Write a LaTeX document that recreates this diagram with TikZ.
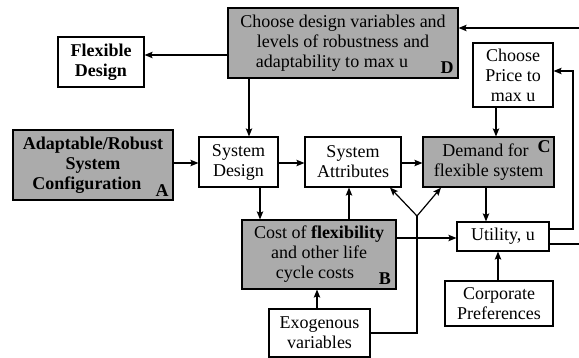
\documentclass[tikz,border=0pt]{standalone}
\usepackage{fontspec}
\setmainfont{Liberation Serif}
\usetikzlibrary{arrows.meta,calc}
\begin{document}
\begin{tikzpicture}[x=1pt,y=-1pt,
  every node/.style={font=\fontsize{18}{20}\selectfont},
  plainbox/.style={draw, line width=1.2pt, fill=white, align=center, inner sep=0pt, rectangle},
  shadebox/.style={plainbox, fill=black!33},
  arr/.style={line width=1.2pt, -{Stealth[length=8pt,width=6.5pt,inset=1.5pt]}},
  ln/.style={line width=1.2pt},
  tag/.style={font=\fontsize{18}{20}\selectfont\bfseries, inner sep=0pt}
]
\useasboundingbox (0,0) rectangle (579,358);
% nodes
\node[plainbox, minimum width=86pt, minimum height=50pt] (FD) at (101,62) {\bfseries Flexible\\\bfseries Design};
\node[shadebox, minimum width=230pt, minimum height=70pt] (D) at (343,43) {Choose design variables and\\levels of robustness and\\adaptability to max u\hspace*{22pt}};
\node[plainbox, minimum width=80pt, minimum height=64pt] (CPr) at (513,75) {Choose\\Price to\\max u};
\node[shadebox, minimum width=160pt, minimum height=70pt] (A) at (93,165) {\bfseries Adaptable/Robust\\\bfseries System\\\bfseries Configuration\hspace*{12pt}};
\node[plainbox, minimum width=79pt, minimum height=50pt] (SD) at (238.5,162) {System\\Design};
\node[plainbox, minimum width=96pt, minimum height=50pt] (SA) at (353,162) {System\\Attributes};
\node[shadebox, minimum width=131pt, minimum height=50pt] (C) at (488.5,162) {Demand for\hspace*{6pt}\\flexible system};
\node[shadebox, minimum width=154pt, minimum height=69pt] (B) at (319,254.5) {Cost of \textbf{flexibility}\\and other life\\cycle costs\hspace*{8pt}};
\node[plainbox, minimum width=92pt, minimum height=29pt] (U) at (503,236.5) {Utility, u};
\node[plainbox, minimum width=101pt, minimum height=48pt] (Exo) at (319.5,333) {Exogenous\\variables};
\node[plainbox, minimum width=108pt, minimum height=45pt] (Corp) at (499,303.5) {Corporate\\Preferences};
% tags
\node[tag] (tD) at (447,68) {D};
\node[tag] (tA) at (162,191) {A};
\node[tag] (tC) at (544,147) {C};
\node[tag] (tB) at (385,279) {B};
% free ends
\coordinate (eR1) at (579,28);
\coordinate (eR2) at (579,244);
\coordinate (bendP) at (573,229);
\coordinate (fork) at (417,216);
% connectors
\draw[arr] (D.west |- 0,55) -- (FD.east |- 0,55);
\draw[arr] (eR1) -- (D.east |- eR1);
\draw[ln] (U.east |- eR2) -- (eR2);
\draw[arr] (U.east |- bendP) -- (bendP) -- (bendP |- 0,71) -- (CPr.east |- 0,71);
\draw[arr] (CPr.south -| 496,0) -- (C.north -| 496,0);
\draw[arr] (D.south -| 249,0) -- (SD.north -| 249,0);
\draw[arr] (A.east |- 0,163) -- (SD.west |- 0,163);
\draw[arr] (SD.east |- 0,163) -- (SA.west |- 0,163);
\draw[arr] (SA.east |- 0,163) -- (C.west |- 0,163);
\draw[arr] (SD.south -| 260,0) -- (B.north -| 260,0);
\draw[arr] (B.north -| 349,0) -- (SA.south -| 349,0);
\draw[arr] (B.east |- 0,238) -- (U.west |- 0,238);
\draw[arr] (C.south -| 486,0) -- (U.north -| 486,0);
\draw[arr] (Corp.north -| 498,0) -- (U.south -| 498,0);
\draw[arr] (Exo.north -| 317,0) -- (B.south -| 317,0);
\draw[ln] (Exo.east |- 0,333) -- (fork |- 0,333) -- (fork);
\draw[arr] (fork) -- (SA.south -| 390,0);
\draw[arr] (fork) -- (C.south -| 441,0);
\end{tikzpicture}
\end{document}
